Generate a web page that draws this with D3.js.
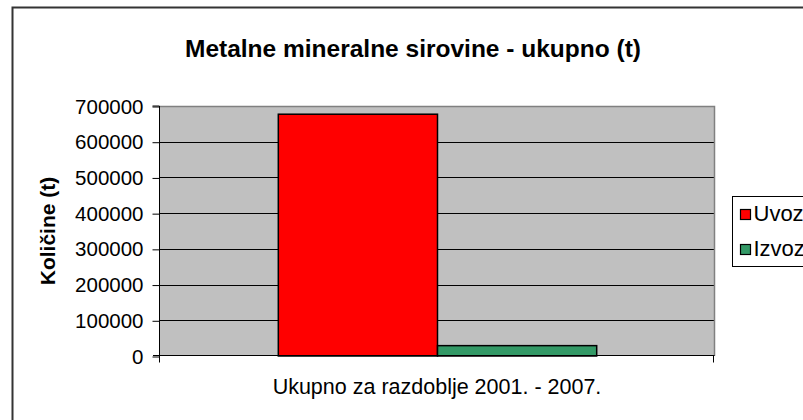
<!DOCTYPE html>
<html>
<head>
  <meta charset="utf-8">
  <title></title>
  <style>
    body { margin: 0; background: #fff; }
    svg { display: block; font-family: "Liberation Sans", Arial, sans-serif; }
    .grid line { stroke: #000; stroke-width: 1px; }
  </style>
</head>
<body>
<svg width="803" height="420"></svg>
<script src="https://cdn.jsdelivr.net/npm/d3@7/dist/d3.min.js"></script>
<script>

var categories = ["Ukupno za razdoblje 2001. - 2007."];
var series = ["Uvoz", "Izvoz"];
var uvoz = [677000];
var izvoz = [29000];
var yTicks = [0, 100000, 200000, 300000, 400000, 500000, 600000, 700000];
var colors = ["#ff0000", "#339966"];

var svg = d3.select("svg");

// outer chart frame (runs off the right / bottom edge)
svg.append("rect")
  .attr("x", 12.5).attr("y", 7.5)
  .attr("width", 820).attr("height", 440)
  .attr("fill", "#fff")
  .attr("stroke", "#333").attr("stroke-width", 2);

var pLeft = 160, pRight = 714, pTop = 106, pBottom = 356;

var y = d3.scaleLinear().domain([0, 700000]).range([pBottom, pTop]);
var x0 = d3.scaleBand().domain(categories).range([pLeft, pRight]);
var x1 = d3.scaleBand().domain(series).range([0, x0.bandwidth()]).paddingInner(0).paddingOuter(0.74);

// plot background
svg.append("rect")
  .attr("x", pLeft).attr("y", pTop)
  .attr("width", pRight - pLeft).attr("height", pBottom - pTop)
  .attr("fill", "#c0c0c0");

// gridlines
svg.append("g").attr("class", "grid")
  .selectAll("line")
  .data(yTicks.filter(function(d) { return d > 0 && d < 700000; }))
  .enter().append("line")
  .attr("x1", pLeft).attr("x2", pRight)
  .attr("y1", function(d) { return Math.round(y(d)) + 0.5; })
  .attr("y2", function(d) { return Math.round(y(d)) + 0.5; });

// grey top/right plot border
svg.append("path")
  .attr("d", "M" + pLeft + "," + (pTop + 0.5) + "H" + (pRight + 0.5) + "V" + pBottom)
  .attr("fill", "none").attr("stroke", "#808080").attr("stroke-width", 1.5);

// bars
var data = [uvoz, izvoz];
svg.append("g")
  .selectAll("rect")
  .data(series)
  .enter().append("rect")
  .attr("x", function(d) { return x0(categories[0]) + x1(d) + 0.5; })
  .attr("y", function(d, i) { return y(data[i][0]); })
  .attr("width", x1.bandwidth())
  .attr("height", function(d, i) { return pBottom - y(data[i][0]); })
  .attr("fill", function(d, i) { return colors[i]; })
  .attr("stroke", "#000").attr("stroke-width", 1.5);

// y axis
var yAxis = svg.append("g")
  .attr("transform", "translate(" + (pLeft - 0.5) + ",0.5)")
  .call(d3.axisLeft(y).tickValues(yTicks).tickSize(7).tickPadding(9).tickFormat(d3.format("d")));
yAxis.select(".domain").attr("d", "M-7," + (pTop - 0.5) + "H0V" + (pBottom - 0.5)).attr("stroke", "#000");
yAxis.selectAll(".tick line").attr("stroke", "#000");
yAxis.selectAll("text").attr("font-size", 20.5).attr("fill", "#000").attr("font-family", "Liberation Sans, Arial, sans-serif");

// x axis
var xAxis = svg.append("g")
  .attr("transform", "translate(0," + (pBottom - 0.5) + ")");
xAxis.append("line")
  .attr("x1", pLeft - 7).attr("x2", pRight + 0.5)
  .attr("stroke", "#000");
xAxis.selectAll(".edge")
  .data([pLeft - 0.5, pRight - 0.5])
  .enter().append("line")
  .attr("class", "edge")
  .attr("x1", function(d) { return d; }).attr("x2", function(d) { return d; })
  .attr("y1", 0).attr("y2", 7)
  .attr("stroke", "#000");
xAxis.selectAll(".cat")
  .data(categories)
  .enter().append("text")
  .attr("class", "cat")
  .attr("x", function(d) { return x0(d) + x0.bandwidth() / 2; })
  .attr("y", 38)
  .attr("text-anchor", "middle")
  .attr("font-size", 21.5)
  .text(function(d) { return d; });

// title
svg.append("text")
  .attr("x", 413).attr("y", 57)
  .attr("text-anchor", "middle")
  .attr("font-size", 24.5).attr("font-weight", "bold")
  .text("Metalne mineralne sirovine - ukupno (t)");

// y axis title
svg.append("text")
  .attr("transform", "translate(55,231) rotate(-90)")
  .attr("text-anchor", "middle")
  .attr("font-size", 21).attr("font-weight", "bold")
  .text("Količine (t)");

// legend
var legend = svg.append("g").attr("transform", "translate(732.5,196.5)");
legend.append("rect")
  .attr("width", 120).attr("height", 70)
  .attr("fill", "#fff").attr("stroke", "#000");
var item = legend.selectAll(".item")
  .data(series)
  .enter().append("g")
  .attr("class", "item")
  .attr("transform", function(d, i) { return "translate(8," + (13 + i * 35) + ")"; });
item.append("rect")
  .attr("width", 10).attr("height", 10)
  .attr("fill", function(d, i) { return colors[i]; })
  .attr("stroke", "#000").attr("stroke-width", 1.2);
item.append("text")
  .attr("x", 13).attr("y", 11)
  .attr("font-size", 22)
  .text(function(d) { return d; });

</script>
</body>
</html>
